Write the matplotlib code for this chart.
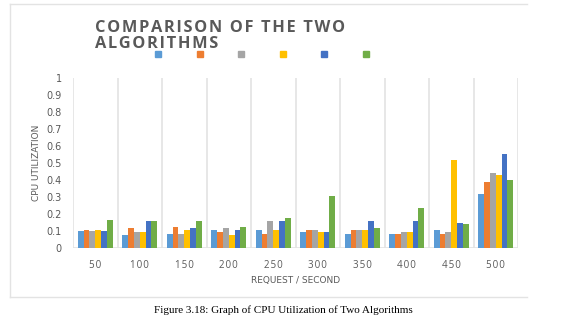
import numpy as np
import matplotlib
matplotlib.use('Agg')
import matplotlib.pyplot as plt
from matplotlib.lines import Line2D

# request rates on the x axis
requests = ['50', '100', '150', '200', '250', '300', '350', '400', '450', '500']

# six bar series (legend carries no names)
s1 = [0.10, 0.075, 0.085, 0.105, 0.105, 0.095, 0.085, 0.085, 0.105, 0.32]
s2 = [0.105, 0.115, 0.125, 0.095, 0.085, 0.105, 0.105, 0.085, 0.085, 0.39]
s3 = [0.10, 0.095, 0.085, 0.115, 0.16, 0.105, 0.105, 0.095, 0.095, 0.44]
s4 = [0.105, 0.095, 0.105, 0.075, 0.105, 0.095, 0.105, 0.095, 0.52, 0.43]
s5 = [0.10, 0.16, 0.115, 0.105, 0.16, 0.095, 0.16, 0.16, 0.145, 0.555]
s6 = [0.165, 0.16, 0.16, 0.125, 0.175, 0.305, 0.115, 0.235, 0.14, 0.40]

series = [s1, s2, s3, s4, s5, s6]
colors = ['#5B9BD5', '#ED7D31', '#A5A5A5', '#FFC000', '#4472C4', '#70AD47']

W, H = 566, 323
fig = plt.figure(figsize=(W / 100, H / 100), dpi=100)
fig.patch.set_facecolor('white')

txt = '#595959'
grid = '#E3E3E3'

# chart frame (right edge cut off in the original)
fx = lambda p: p / W
fy = lambda p: 1 - p / H
fig.add_artist(Line2D([fx(10), fx(527)], [fy(4), fy(4)], color=grid, lw=1))
fig.add_artist(Line2D([fx(10), fx(527)], [fy(297), fy(297)], color=grid, lw=1))
fig.add_artist(Line2D([fx(10), fx(10)], [fy(4), fy(297)], color=grid, lw=1))

ax = fig.add_axes([fx(73), fy(248), (518 - 73) / W, (248 - 78) / H])
ax.set_xlim(0, len(requests))
ax.set_ylim(0, 1)

n = len(series)
group = 0.79
bw = group / n
x = np.arange(len(requests))
for i, (vals, c) in enumerate(zip(series, colors)):
    ax.bar(x + 0.5 - group / 2 + bw * (i + 0.5), vals, width=bw, color=c,
           edgecolor='none', zorder=3)

# vertical gridlines between categories
for b in range(len(requests) + 1):
    ax.axvline(b, color=grid, lw=1.2, zorder=1)

for sp in ax.spines.values():
    sp.set_visible(False)
ax.axhline(0, color=grid, lw=1.2, zorder=2)

# hair-spaced text, like the Excel letter spacing
spaced = lambda s: '\u200a'.join(s)

ax.set_yticks(np.arange(0, 1.01, 0.1))
ax.set_yticklabels(['0', '0.1', '0.2', '0.3', '0.4', '0.5', '0.6', '0.7', '0.8', '0.9', '1'])
ax.set_xticks(x + 0.5)
ax.set_xticklabels([spaced(r) for r in requests], family=['Open Sans', 'DejaVu Sans'])
ax.tick_params(length=0, colors=txt, labelsize=7)
ax.tick_params(axis='y', pad=8)
ax.tick_params(axis='x', pad=9)

ax.set_ylabel('CPU UTILIZATION', color=txt, fontsize=6.5, labelpad=4)
ax.set_xlabel('REQUEST / SECOND', color=txt, fontsize=6.5, labelpad=3)

fig.text(fx(95), fy(20), spaced('COMPARISON OF THE TWO') + '\n' + spaced('ALGORITHMS'),
         fontsize=11.8, fontweight='bold', color=txt, va='top', ha='left',
         linespacing=1.02, family=['Open Sans', 'DejaVu Sans'])

handles = [Line2D([], [], marker='s', ls='none', color=c, markersize=4.5) for c in colors]
fig.legend(handles, [''] * n, ncol=n, loc='center', frameon=False,
           bbox_to_anchor=(fx(262), fy(55)), columnspacing=4.0,
           handlelength=0.6, handletextpad=0.0, fontsize=6.5)

fig.text(0.5, fy(310), 'Figure 3.18: Graph of CPU Utilization of Two Algorithms',
         fontsize=8, family='Liberation Serif', ha='center', va='center', color='black')

fig.savefig('out.png', dpi=100)
